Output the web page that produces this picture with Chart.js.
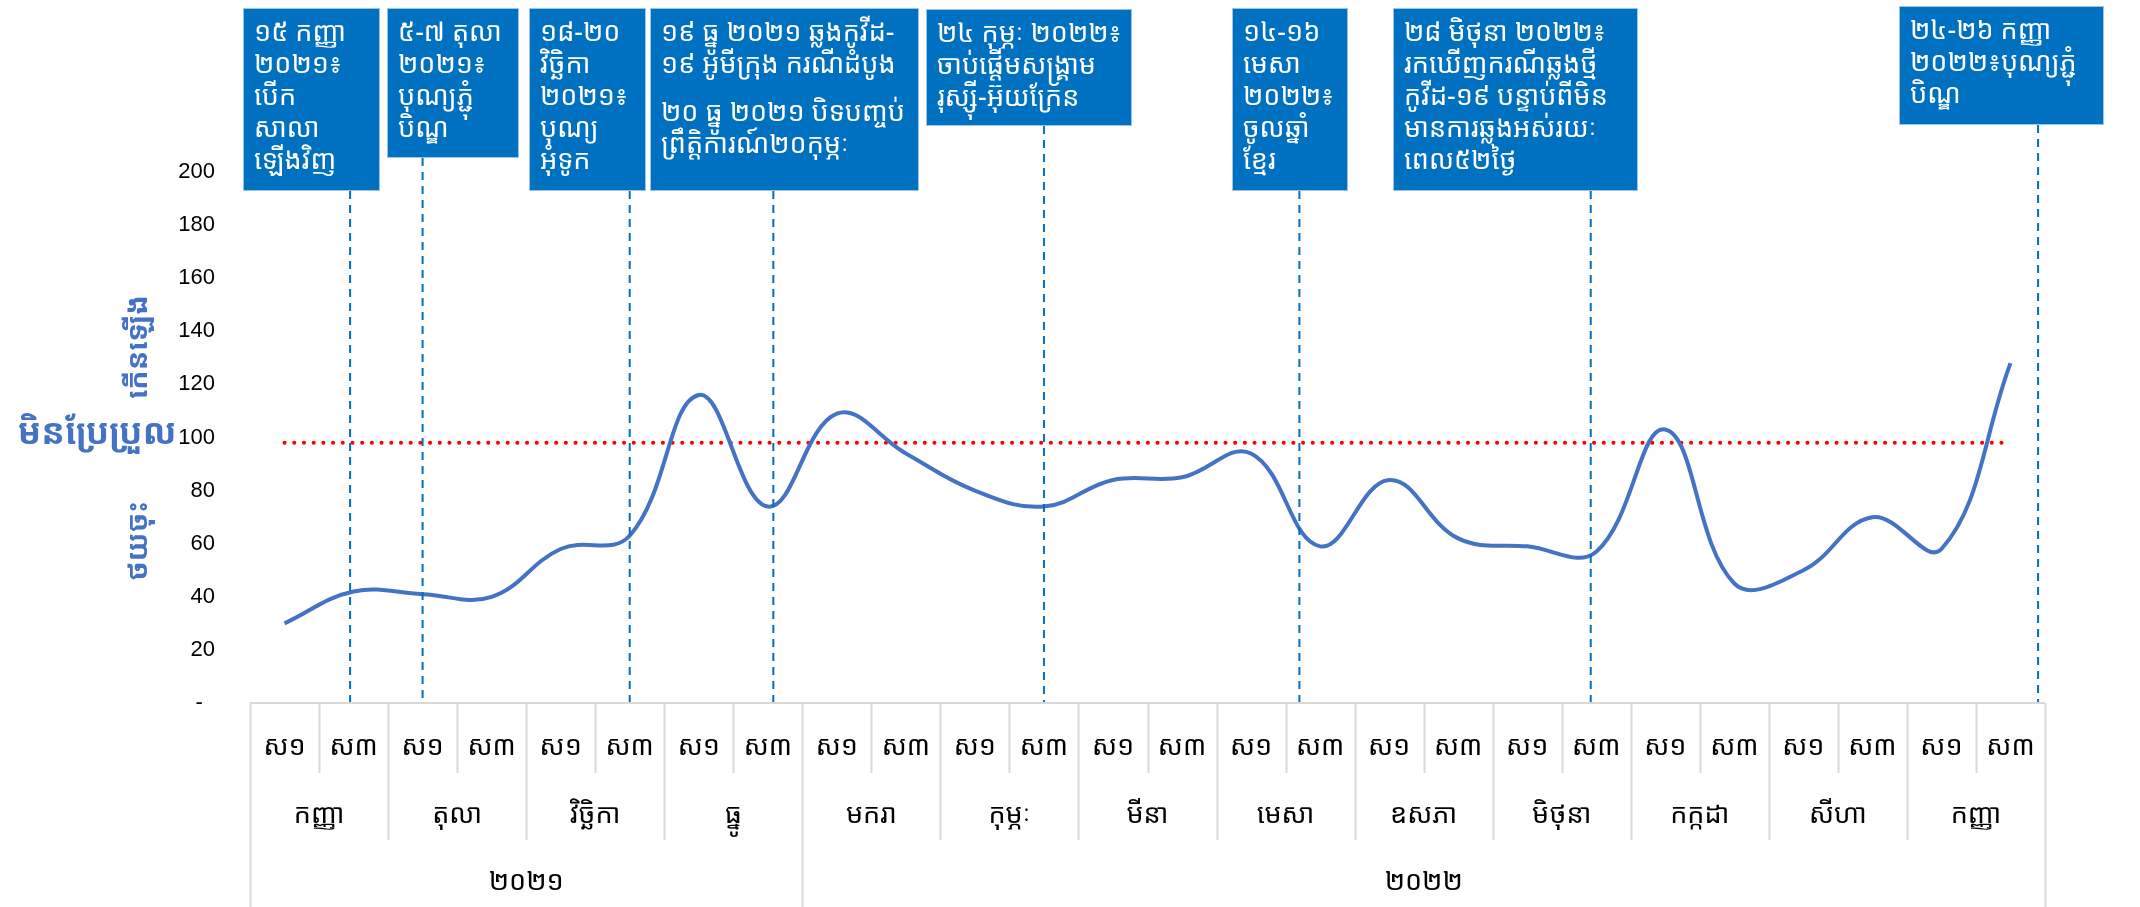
<!DOCTYPE html>
<html>
<head>
<meta charset="utf-8">
<script src="https://cdn.jsdelivr.net/npm/chart.js@4.4.1/dist/chart.umd.min.js"></script>
<style>
  html, body { margin: 0; padding: 0; background: #fff; }
  #wrap { width: 2140px; height: 907px; }
</style>
</head>
<body>
<div id="wrap"><canvas id="chart" width="2140" height="907"></canvas></div>
<script>
// half-month periods (ស១ = first half, ស៣ = third week)
const halves = ['ស១','ស៣','ស១','ស៣','ស១','ស៣','ស១','ស៣','ស១','ស៣','ស១','ស៣','ស១',
                'ស៣','ស១','ស៣','ស១','ស៣','ស១','ស៣','ស១','ស៣','ស១','ស៣','ស១','ស៣'];
const months = ['កញ្ញា','តុលា','វិច្ឆិកា','ធ្នូ','មករា','កុម្ភៈ','មីនា',
                'មេសា','ឧសភា','មិថុនា','កក្កដា','សីហា','កញ្ញា'];
const years = ['២០២១','២០២២'];
const monthsPerYear = [4, 9];

const values = [30, 42, 41, 40, 58, 63, 116, 74, 109, 94, 80, 74, 84,
                85, 94, 59, 84, 62, 59, 57, 103, 45, 50, 70, 58, 128];
const baseline = 98;

const yTicks = [0, 20, 40, 60, 80, 100, 120, 140, 160, 180, 200];

// events: position on the period axis (index, fractional) and text lines
const eventAt = [0.95, 2.0, 5.0, 7.08, 11.0, 14.7, 18.92, 25.4];
const eventText = [
  ['១៥ កញ្ញា', '២០២១៖', 'បើក', 'សាលា', 'ឡើងវិញ'],
  ['៥-៧ តុលា', '២០២១៖', 'បុណ្យភ្ជុំ', 'បិណ្ឌ'],
  ['១៨-២០', 'វិច្ឆិកា', '២០២១៖', 'បុណ្យ', 'អុំទូក'],
  ['១៩ ធ្នូ ២០២១ ឆ្លងកូវីដ-', '១៩ អូមីក្រុង ករណីដំបូង', '', '២០ ធ្នូ ២០២១ បិទបញ្ចប់', 'ព្រឹត្តិការណ៍២០កុម្ភៈ'],
  ['២៤ កុម្ភៈ ២០២២៖', 'ចាប់ផ្តើមសង្គ្រាម', 'រុស្ស៊ី-អ៊ុយក្រែន'],
  ['១៤-១៦', 'មេសា', '២០២២៖', 'ចូលឆ្នាំ', 'ខ្មែរ'],
  ['២៨ មិថុនា ២០២២៖', 'រកឃើញករណីឆ្លងថ្មី', 'កូវីដ-១៩ បន្ទាប់ពីមិន', 'មានការឆ្លងអស់រយៈ', 'ពេល៥២ថ្ងៃ'],
  ['២៤-២៦ កញ្ញា', '២០២២៖បុណ្យភ្ជុំ', 'បិណ្ឌ']
];

// box rectangles for the event call-outs (page pixels)
const boxLayout = [
  [243, 8, 137, 183], [387, 8, 132, 150], [529, 8, 117, 183], [650, 8, 269, 183],
  [926, 9, 206, 117], [1232, 8, 116, 183], [1393, 8, 245, 183], [1899, 6, 205, 119]
];

const KHMER = '"Noto Sans Khmer", "Khmer OS System", "Khmer OS", "Noto Serif Khmer", "Noto Sans", sans-serif';
const BLUE = '#0070C0';

const overlay = {
  id: 'overlay',
  afterDatasetsDraw(chart) {
    const { ctx, chartArea, scales: { x } } = chart;
    const bandX = k => x.getPixelForValue(k - 0.5);

    ctx.save();

    // axis title pieces
    ctx.fillStyle = '#4472C4';
    ctx.textAlign = 'center';
    ctx.textBaseline = 'middle';
    ctx.font = 'bold 35px ' + KHMER;
    ctx.fillText('មិនប្រែប្រួល', 97, 434);
    ctx.font = 'bold 29px ' + KHMER;
    [['កើនឡើង', 347], ['ថយចុះ', 541]].forEach(([t, cy]) => {
      ctx.save();
      ctx.translate(139, cy);
      ctx.rotate(-Math.PI / 2);
      ctx.fillText(t, 0, 0);
      ctx.restore();
    });

    // dashed event lines
    ctx.strokeStyle = BLUE;
    ctx.lineWidth = 2;
    ctx.setLineDash([8, 6]);
    eventAt.forEach((v, i) => {
      const px = x.getPixelForValue(v);
      const b = boxLayout[i];
      ctx.beginPath();
      ctx.moveTo(px, b[1] + b[3]);
      ctx.lineTo(px, chartArea.bottom);
      ctx.stroke();
    });
    ctx.setLineDash([]);

    // call-out boxes
    ctx.textAlign = 'left';
    ctx.font = '27px ' + KHMER;
    boxLayout.forEach((b, i) => {
      ctx.fillStyle = BLUE;
      ctx.fillRect(b[0], b[1], b[2], b[3]);
      ctx.strokeStyle = '#9DC3E6';
      ctx.lineWidth = 1;
      ctx.strokeRect(b[0] + 0.5, b[1] + 0.5, b[2] - 1, b[3] - 1);
      ctx.fillStyle = '#fff';
      let cy = b[1] + 25;
      eventText[i].forEach(line => {
        if (line === '') { cy += 16; return; }
        ctx.fillText(line, b[0] + 11, cy);
        cy += 32;
      });
    });

    // category table
    const top = chartArea.bottom;
    const row1 = top + 70, row2 = top + 137, row3 = 907;
    ctx.strokeStyle = '#D9D9D9';
    ctx.lineWidth = 2;
    ctx.beginPath();
    ctx.moveTo(bandX(0), top);
    ctx.lineTo(bandX(halves.length), top);
    ctx.stroke();
    const yearEdges = [0];
    monthsPerYear.forEach(n => yearEdges.push(yearEdges[yearEdges.length - 1] + n * 2));
    for (let k = 0; k <= halves.length; k++) {
      let bottom = row1;
      if (yearEdges.includes(k)) bottom = row3;
      else if (k % 2 === 0) bottom = row2;
      const px = Math.round(bandX(k)) + 0.5;
      ctx.beginPath();
      ctx.moveTo(px, top);
      ctx.lineTo(px, bottom);
      ctx.stroke();
    }

    ctx.fillStyle = '#000';
    ctx.textAlign = 'center';
    ctx.font = '27px ' + KHMER;
    halves.forEach((t, k) => ctx.fillText(t, x.getPixelForValue(k), top + 44));
    months.forEach((t, m) => ctx.fillText(t, (bandX(2 * m) + bandX(2 * m + 2)) / 2, top + 112));
    years.forEach((t, j) => ctx.fillText(t, (bandX(yearEdges[j]) + bandX(yearEdges[j + 1])) / 2, top + 179));

    ctx.restore();
  }
};

new Chart(document.getElementById('chart'), {
  type: 'line',
  data: {
    labels: halves,
    datasets: [
      {
        data: values,
        borderColor: '#4472C4',
        borderWidth: 4,
        pointRadius: 0,
        tension: 0.4,
        fill: false
      },
      {
        data: halves.map(() => baseline),
        borderColor: '#FF0000',
        borderWidth: 4,
        borderDash: [0.1, 9.6],
        borderCapStyle: 'round',
        pointRadius: 0,
        fill: false
      }
    ]
  },
  options: {
    responsive: false,
    animation: false,
    devicePixelRatio: 1,
    layout: { padding: { top: 172, right: 95, bottom: 204, left: 0 } },
    plugins: { legend: { display: false }, tooltip: { enabled: false } },
    scales: {
      x: { display: false, offset: true },
      y: {
        min: 0,
        max: 200,
        afterBuildTicks: s => { s.ticks = yTicks.map(v => ({ value: v })); },
        afterFit: s => { s.width = 250; },
        grid: { display: false },
        border: { display: false },
        ticks: {
          padding: 27,
          color: '#000',
          font: { family: '"Liberation Sans", Arial, sans-serif', size: 22 },
          callback: v => (v === 0 ? '-  ' : v)
        }
      }
    }
  },
  plugins: [overlay]
});
</script>
</body>
</html>
